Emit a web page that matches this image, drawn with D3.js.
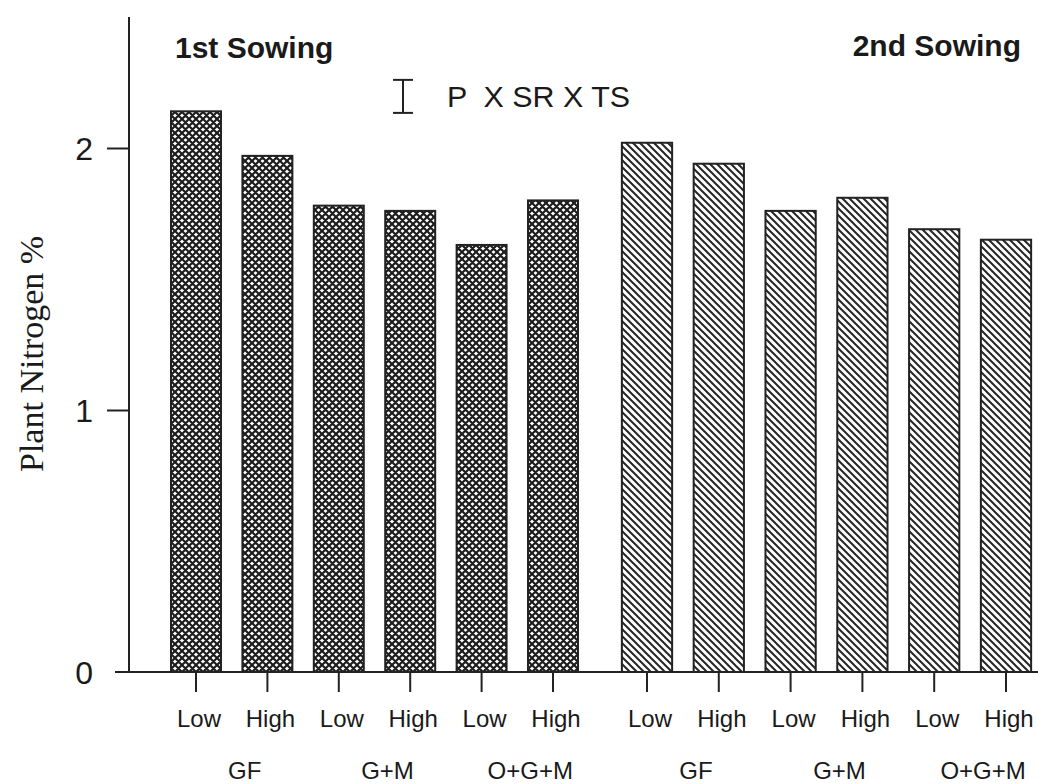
<!DOCTYPE html>
<html>
<head>
<meta charset="utf-8">
<script src="https://cdn.jsdelivr.net/npm/d3@7"></script>
<style>
  html, body { margin: 0; padding: 0; background: #fff; }
  svg { display: block; }
  text { fill: #1a1a1a; }
</style>
</head>
<body>
<svg id="chart" width="1038" height="784"></svg>
<script>
// Plant nitrogen (%) by sowing date, treatment and level
const sowings = ["1st Sowing", "2nd Sowing"];
const levels = ["Low", "High"];
const treatments = ["GF", "G+M", "O+G+M"];
const sowing1N = [2.14, 1.97, 1.78, 1.76, 1.63, 1.80];
const sowing2N = [2.02, 1.94, 1.76, 1.81, 1.69, 1.65];
const yTicks = [0, 1, 2];
// LSD bar for P x SR x TS
const lsdLabel = "P  X SR X TS";
const lsdValue = 0.126;
const lsdTop = 2.26;

const svg = d3.select("#chart");
const W = 1038, H = 784;

const y = d3.scaleLinear().domain([0, 2.5]).range([672, 17]);

// one band scale per sowing, six bars each (treatment x level)
const slots = treatments.flatMap(t => levels.map(l => t + " " + l));
const xS = [
  d3.scaleBand().domain(slots).range([160.3, 588.7]).paddingInner(0.3).paddingOuter(0.15),
  d3.scaleBand().domain(slots).range([611.1, 1041.9]).paddingInner(0.3).paddingOuter(0.15)
];
const values = [sowing1N, sowing2N];

// fill patterns: cross-hatch for 1st sowing, back-diagonal hatch for 2nd
const defs = svg.append("defs");
const cp = 7;
const cross = defs.append("pattern").attr("id", "cross")
  .attr("patternUnits", "userSpaceOnUse").attr("width", cp).attr("height", cp);
let dCross = "";
for (const k of [-cp, 0, cp]) {
  dCross += `M${k - 1},-1L${k + cp + 1},${cp + 1}`;
  dCross += `M${k + cp + 1},-1L${k - 1},${cp + 1}`;
}
cross.append("rect").attr("width", cp).attr("height", cp).attr("fill", "#fff");
cross.append("path").attr("d", dCross).attr("stroke", "#1c1c1c").attr("stroke-width", 2.2).attr("fill", "none");

const hp = 7;
const hatch = defs.append("pattern").attr("id", "hatch")
  .attr("patternUnits", "userSpaceOnUse").attr("width", hp).attr("height", hp);
let dHatch = "";
for (const k of [-hp, 0, hp]) dHatch += `M${k - 1},-1L${k + hp + 1},${hp + 1}`;
hatch.append("rect").attr("width", hp).attr("height", hp).attr("fill", "#fff");
hatch.append("path").attr("d", dHatch).attr("stroke", "#262626").attr("stroke-width", 2).attr("fill", "none");

const fills = ["url(#cross)", "url(#hatch)"];

// bars
sowings.forEach((s, i) => {
  const x = xS[i];
  svg.append("g").selectAll("rect")
    .data(slots.map((k, j) => ({ k, v: values[i][j] })))
    .join("rect")
    .attr("x", d => x(d.k))
    .attr("y", d => y(d.v))
    .attr("width", x.bandwidth())
    .attr("height", d => y(0) - y(d.v))
    .attr("fill", fills[i])
    .attr("stroke", "#222")
    .attr("stroke-width", 2);
});

// y axis
const yAxis = d3.axisLeft(y).tickValues(yTicks).tickSize(22).tickPadding(14).tickFormat(d3.format("d"));
const gy = svg.append("g").attr("transform", "translate(129,0)").call(yAxis);
gy.select(".domain").attr("d", `M0,${y(2.5)}V${y(0)}`).attr("stroke", "#222").attr("stroke-width", 2);
gy.selectAll(".tick line").attr("stroke", "#222").attr("stroke-width", 2)
  .attr("display", d => d === 0 ? "none" : null);
gy.selectAll(".tick text").attr("font-family", "Liberation Sans, Arial, sans-serif")
  .attr("font-size", 32).attr("fill", "#1a1a1a").attr("dy", "0.36em");

// baseline across the plot
svg.append("line").attr("x1", 115).attr("x2", W).attr("y1", y(0)).attr("y2", y(0))
  .attr("stroke", "#222").attr("stroke-width", 2);

// x ticks and labels per sowing
sowings.forEach((s, i) => {
  const x = xS[i];
  const gx = svg.append("g").attr("transform", `translate(0,${y(0)})`)
    .call(d3.axisBottom(x).tickSize(20).tickPadding(18).tickFormat(d => d.split(" ")[1]));
  gx.select(".domain").remove();
  gx.selectAll(".tick line").attr("stroke", "#222").attr("stroke-width", 2);
  gx.selectAll(".tick text").attr("font-family", "Liberation Sans, Arial, sans-serif")
    .attr("font-size", 24).attr("fill", "#1a1a1a").attr("dy", "0.71em").attr("dx", 3);

  // treatment labels under each Low/High pair
  svg.append("g").selectAll("text")
    .data(treatments)
    .join("text")
    .attr("x", t => (x(t + " Low") + x(t + " High")) / 2 + x.bandwidth() / 2 + 13)
    .attr("y", 779)
    .attr("text-anchor", "middle")
    .attr("font-family", "Liberation Sans, Arial, sans-serif")
    .attr("font-size", 24)
    .text(t => t);
});

// sowing titles
svg.append("text").attr("x", 175).attr("y", 58)
  .attr("font-family", "Liberation Sans, Arial, sans-serif").attr("font-weight", "bold")
  .attr("font-size", 30).text(sowings[0]);
svg.append("text").attr("x", 1021).attr("y", 56).attr("text-anchor", "end")
  .attr("font-family", "Liberation Sans, Arial, sans-serif").attr("font-weight", "bold")
  .attr("font-size", 30).text(sowings[1]);

// LSD bar and its label
const lsdX = 403;
const lsdG = svg.append("g").attr("stroke", "#222").attr("stroke-width", 2);
lsdG.append("line").attr("x1", lsdX).attr("x2", lsdX).attr("y1", y(lsdTop)).attr("y2", y(lsdTop - lsdValue));
lsdG.append("line").attr("x1", lsdX - 10).attr("x2", lsdX + 10).attr("y1", y(lsdTop)).attr("y2", y(lsdTop));
lsdG.append("line").attr("x1", lsdX - 10).attr("x2", lsdX + 10).attr("y1", y(lsdTop - lsdValue)).attr("y2", y(lsdTop - lsdValue));
svg.append("text").attr("x", 447).attr("y", 107)
  .attr("font-family", "Liberation Sans, Arial, sans-serif").attr("font-size", 29)
  .attr("textLength", 183).attr("lengthAdjust", "spacingAndGlyphs")
  .style("white-space", "pre").text(lsdLabel);

// y axis title
svg.append("text")
  .attr("transform", "translate(43,472) rotate(-90)")
  .attr("font-family", "Liberation Serif, Times New Roman, serif")
  .attr("font-size", 34)
  .text("Plant Nitrogen %");
</script>
</body>
</html>
